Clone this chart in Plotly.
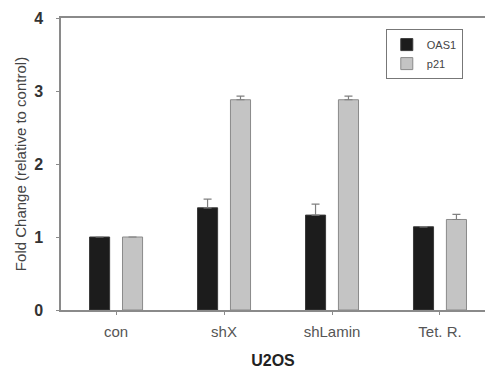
import plotly.graph_objects as go

categories = ["con", "shX", "shLamin", "Tet. R."]
oas1 = [1.0, 1.40, 1.30, 1.14]
oas1_err = [0.0, 0.12, 0.15, 0.0]
p21 = [1.0, 2.88, 2.88, 1.24]
p21_err = [0.0, 0.05, 0.05, 0.07]
y_ticks = [0, 1, 2, 3, 4]

W, H = 485, 373
L, R, T, B = 61, 0, 18, 63

fig = go.Figure()
fig.add_trace(go.Bar(
    name="OAS1", x=categories, y=oas1,
    marker=dict(color="#1c1c1c", line=dict(color="#3a3a3a", width=1)),
    error_y=dict(type="data", symmetric=False, array=oas1_err, arrayminus=[0]*4,
                 color="#808080", thickness=1.2, width=4),
))
fig.add_trace(go.Bar(
    name="p21", x=categories, y=p21,
    marker=dict(color="#c4c4c4", line=dict(color="#8a8a8a", width=1)),
    error_y=dict(type="data", symmetric=False, array=p21_err, arrayminus=[0]*4,
                 color="#808080", thickness=1.2, width=4),
))

fig.update_layout(
    width=W, height=H,
    margin=dict(l=L, r=R, t=T, b=B, pad=0),
    paper_bgcolor="white", plot_bgcolor="white",
    barmode="group", bargap=0.39, bargroupgap=0.39,
    font=dict(family="Liberation Sans, Arial, sans-serif", color="#333333"),
    showlegend=True,
    legend=dict(
        x=0.766, y=0.962, xanchor="left", yanchor="top",
        bgcolor="white", bordercolor="#777777", borderwidth=1,
        font=dict(size=11, color="#444444"),
        itemwidth=30, tracegroupgap=0,
    ),
)
fig.update_xaxes(
    range=[-0.51, 3.417],
    showline=True, linecolor="#8a8a8a", linewidth=1.5, mirror=True,
    ticks="outside", ticklen=3, tickcolor="#8a8a8a",
    tickfont=dict(size=15, color="#555555"),
    ticklabelstandoff=4,
    title=dict(text="<b>U2OS</b>", font=dict(size=16, color="#222222"), standoff=16),
    showgrid=False,
)
fig.update_yaxes(
    range=[0, 4], tickvals=y_ticks,
    ticktext=[f"<b>{v}</b>" for v in y_ticks],
    showline=True, linecolor="#8a8a8a", linewidth=1.5,
    ticks="outside", ticklen=3, tickcolor="#8a8a8a",
    tickfont=dict(size=16, color="#333333"),
    ticklabelstandoff=10,
    title=dict(text="Fold Change (relative to control)", font=dict(size=15, color="#444444"), standoff=4),
    showgrid=False, zeroline=False,
)

fig.write_html("out.html")
